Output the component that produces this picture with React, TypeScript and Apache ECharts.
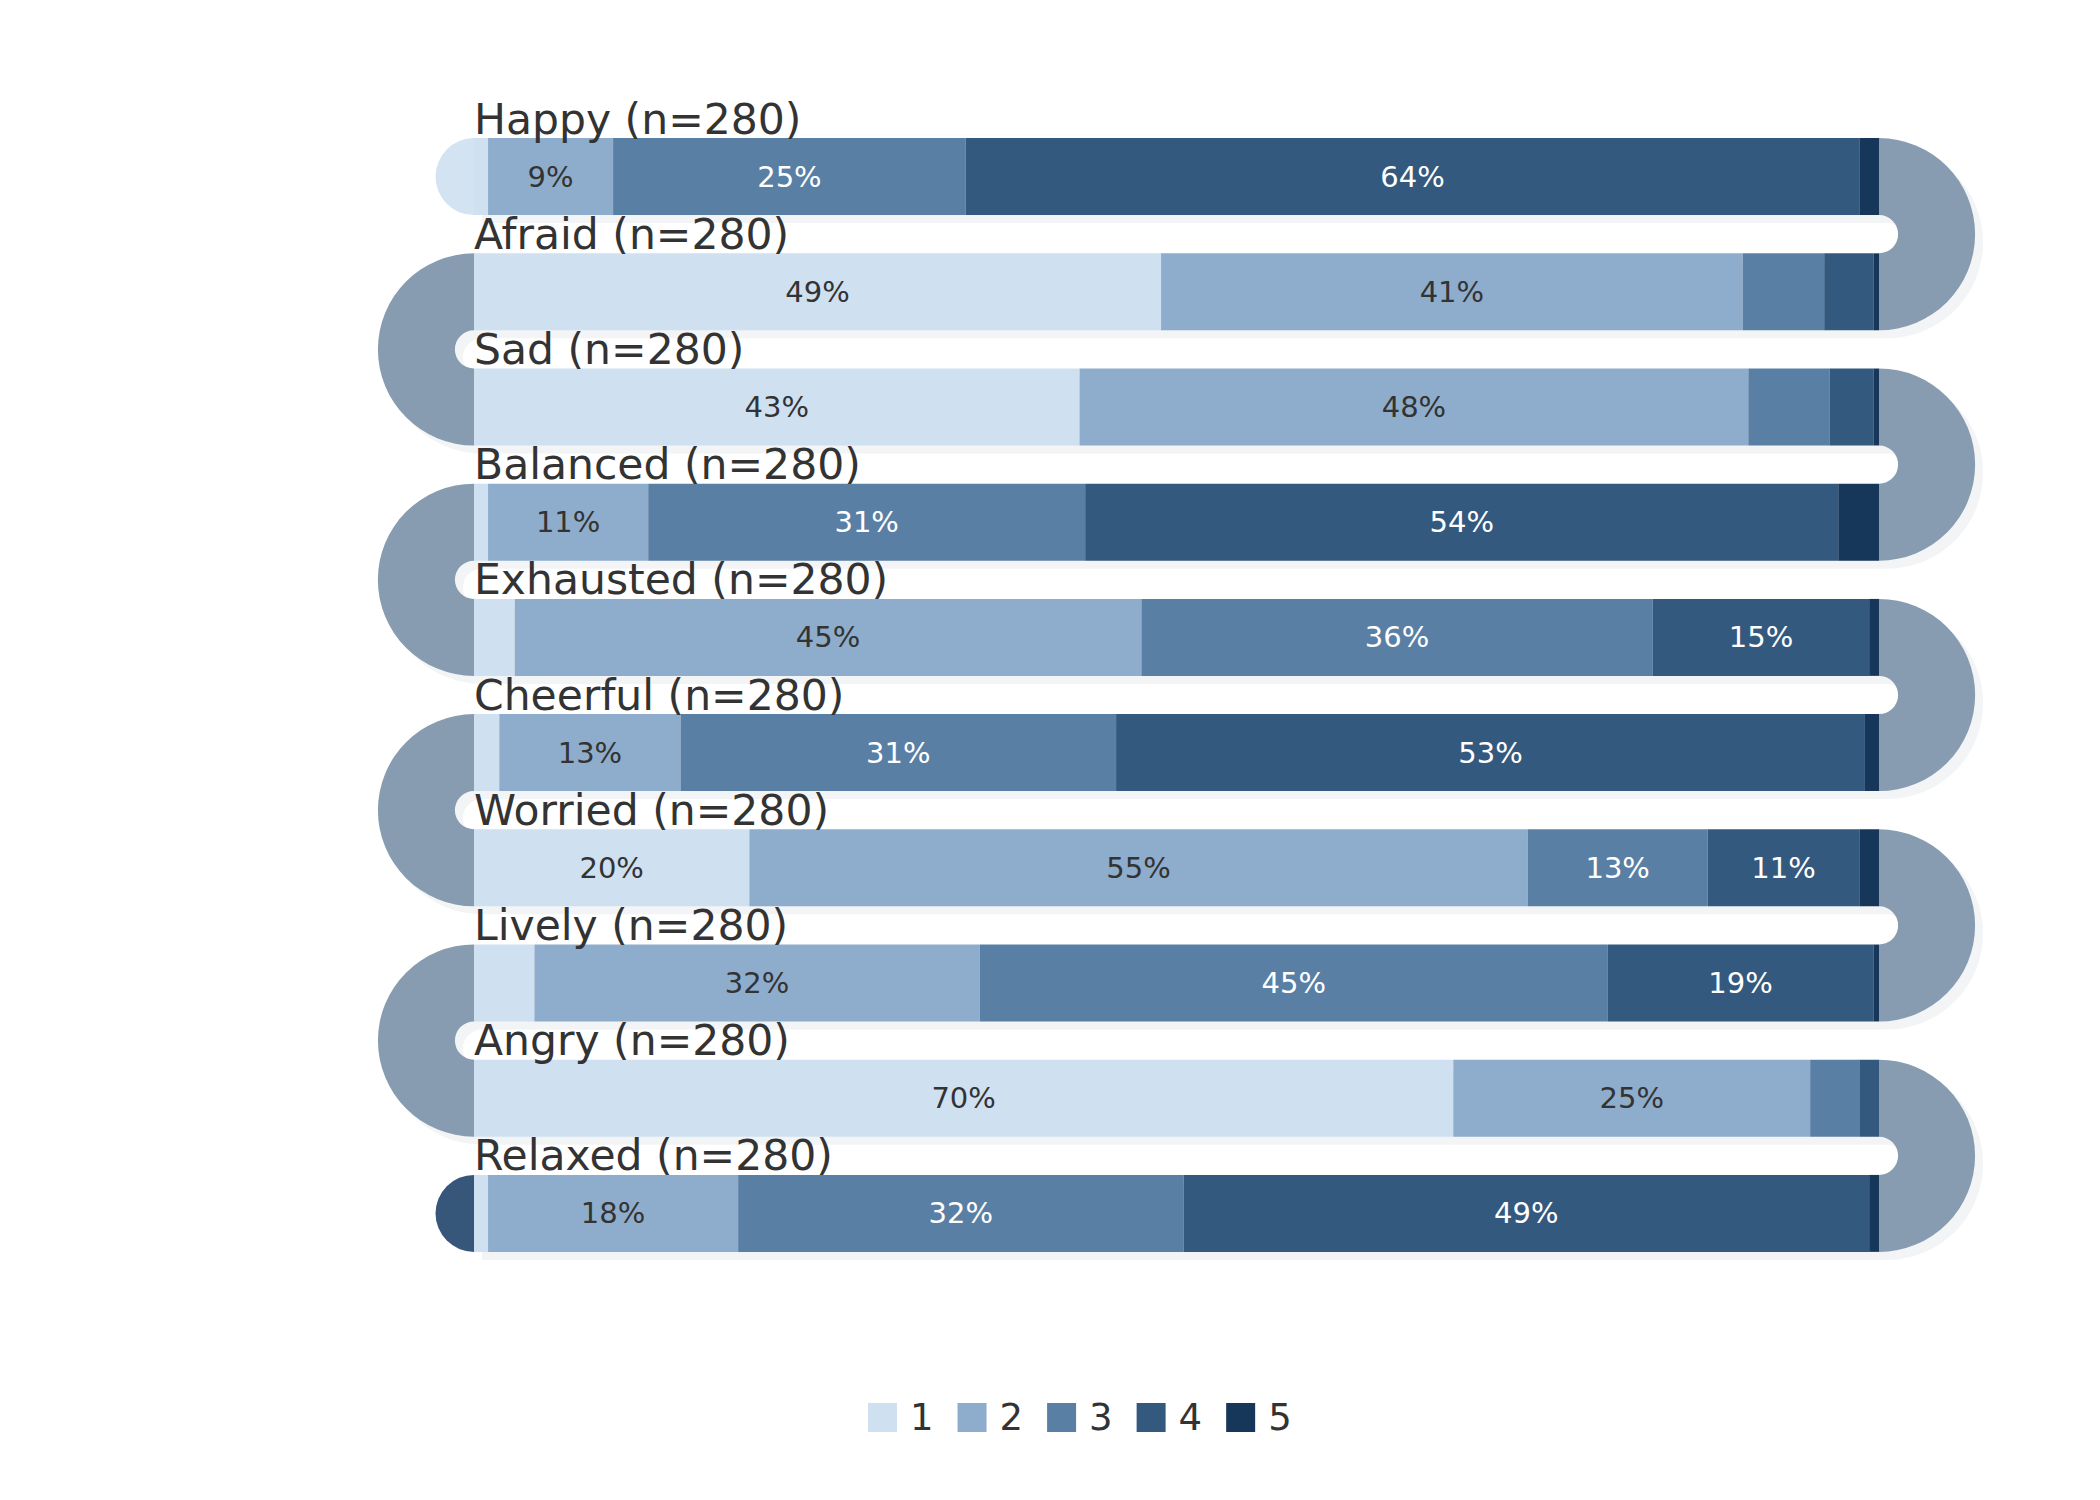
import { useEffect, useRef } from 'react'
import * as echarts from 'echarts'

// Emotion ratings, share of answers (%) on a 1–5 scale, n=280 each
const emotions = ['Happy', 'Afraid', 'Sad', 'Balanced', 'Exhausted', 'Cheerful', 'Worried', 'Lively', 'Angry', 'Relaxed']
const sampleSizes = [280, 280, 280, 280, 280, 280, 280, 280, 280, 280]
const levels = ['1', '2', '3', '4', '5']

const level1 = [1.0, 48.9, 43.1, 1.0, 2.9, 1.8, 19.6, 4.3, 69.7, 1.0]
const level2 = [8.9, 41.4, 47.6, 11.4, 44.6, 12.9, 55.4, 31.7, 25.4, 17.8]
const level3 = [25.1, 5.8, 5.8, 31.1, 36.4, 31.0, 12.8, 44.7, 3.5, 31.7]
const level4 = [63.6, 3.5, 3.1, 53.6, 15.4, 53.3, 10.8, 18.9, 1.4, 48.8]
const level5 = [1.4, 0.4, 0.4, 2.9, 0.7, 1.0, 1.4, 0.4, 0.0, 0.7]

const levelColors = ['#cfe0f1', '#8eadcc', '#5a7fa5', '#33597f', '#17375a']
const labelColors = ['#333333', '#333333', '#ffffff', '#ffffff', '#ffffff']
const ARC_COLOR = '#879cb0'
const SHADOW_COLOR = '#f2f4f6'
const START_CAP_COLOR = '#d4e3f2'
const END_CAP_COLOR = '#37577a'
const BAR_RATIO = 0.668
const SHADOW_OFFSET = 8
const FONT = '"DejaVu Sans", "Liberation Sans", sans-serif'

const levelData = [level1, level2, level3, level4, level5]
const last = emotions.length - 1

// arc i joins bar i and bar i+1: right side for even i, left side for odd i
const arcSide = (i: number) => (i % 2 === 0 ? 100 : 0)

export default function App() {
  const ref = useRef<HTMLDivElement>(null)

  useEffect(() => {
    document.body.style.margin = '0'
    if (!ref.current) return
    const chart = echarts.init(ref.current, null, { renderer: 'svg' })

    const geometry = (api: any, i: number) => {
      const band = api.size([0, 1])[1]
      const h = band * BAR_RATIO
      const left = api.coord([0, i])
      const right = api.coord([100, i])
      return { band, h, left, right }
    }

    const arcShape = (api: any, i: number, dx: number, dy: number) => {
      const { band, h } = geometry(api, i)
      const x = arcSide(i)
      const a = api.coord([x, i])
      const b = api.coord([x, i + 1])
      const r0 = (band - h) / 2
      const onRight = x === 100
      return {
        cx: a[0] + dx,
        cy: (a[1] + b[1]) / 2 + dy,
        r0,
        r: r0 + h,
        startAngle: onRight ? -Math.PI / 2 : Math.PI / 2,
        endAngle: onRight ? Math.PI / 2 : (3 * Math.PI) / 2,
        clockwise: true,
      }
    }

    const rowData = emotions.map((_, i) => [100, i])

    chart.setOption({
      animation: false,
      grid: { left: 474, right: 221, top: 119, bottom: 229 },
      xAxis: { type: 'value', min: 0, max: 100, show: false },
      yAxis: { type: 'category', data: emotions, inverse: true, show: false },
      legend: {
        data: levels,
        left: 863,
        top: 1394,
        icon: 'rect',
        itemWidth: 29,
        itemHeight: 29,
        itemGap: 24,
        textStyle: { fontSize: 37, color: '#333333', fontFamily: FONT, padding: [0, 0, 0, 8] },
      },
      series: [
        {
          type: 'custom',
          name: 'shadow',
          z: 1,
          silent: true,
          data: rowData,
          renderItem: (_p: any, api: any) => {
            const i = api.value(1)
            const { h, left, right } = geometry(api, i)
            const children: any[] = [
              {
                type: 'rect',
                shape: { x: left[0] + SHADOW_OFFSET, y: left[1] - h / 2 + SHADOW_OFFSET, width: right[0] - left[0], height: h },
                style: { fill: SHADOW_COLOR },
              },
            ]
            if (i < last) {
              children.push({ type: 'sector', shape: arcShape(api, i, SHADOW_OFFSET, SHADOW_OFFSET), style: { fill: SHADOW_COLOR } })
            }
            return { type: 'group', children }
          },
        },
        {
          type: 'custom',
          name: 'arcs',
          z: 2,
          silent: true,
          data: rowData,
          renderItem: (_p: any, api: any) => {
            const i = api.value(1)
            const { h, left } = geometry(api, i)
            const children: any[] = []
            if (i < last) {
              children.push({ type: 'sector', shape: arcShape(api, i, 0, 0), style: { fill: ARC_COLOR } })
            }
            if (i === 0 || i === last) {
              children.push({
                type: 'sector',
                shape: { cx: left[0], cy: left[1], r0: 0, r: h / 2, startAngle: Math.PI / 2, endAngle: (3 * Math.PI) / 2, clockwise: true },
                style: { fill: i === 0 ? START_CAP_COLOR : END_CAP_COLOR },
              })
            }
            return { type: 'group', children }
          },
        },
        ...levels.map((lv, k) => ({
          type: 'bar',
          name: lv,
          stack: 'total',
          z: 3,
          barWidth: `${BAR_RATIO * 100}%`,
          data: levelData[k],
          itemStyle: { color: levelColors[k] },
          emphasis: { disabled: true },
          label: {
            show: true,
            position: 'inside',
            color: labelColors[k],
            fontSize: 29,
            fontFamily: FONT,
            formatter: (p: any) => (p.value >= 8 ? `${Math.round(p.value)}%` : ''),
          },
        })),
        {
          type: 'custom',
          name: 'titles',
          z: 5,
          silent: true,
          data: rowData,
          renderItem: (_p: any, api: any) => {
            const i = api.value(1)
            const { h, left } = geometry(api, i)
            return {
              type: 'text',
              x: left[0],
              y: left[1] - h / 2 - 19,
              style: {
                text: `${emotions[i]} (n=${sampleSizes[i]})`,
                fill: '#333333',
                font: `42.5px ${FONT}`,
                textAlign: 'left',
                textVerticalAlign: 'middle',
              },
            }
          },
        },
      ],
    })

    return () => chart.dispose()
  }, [])

  return <div ref={ref} style={{ width: 2100, height: 1500 }} />
}
